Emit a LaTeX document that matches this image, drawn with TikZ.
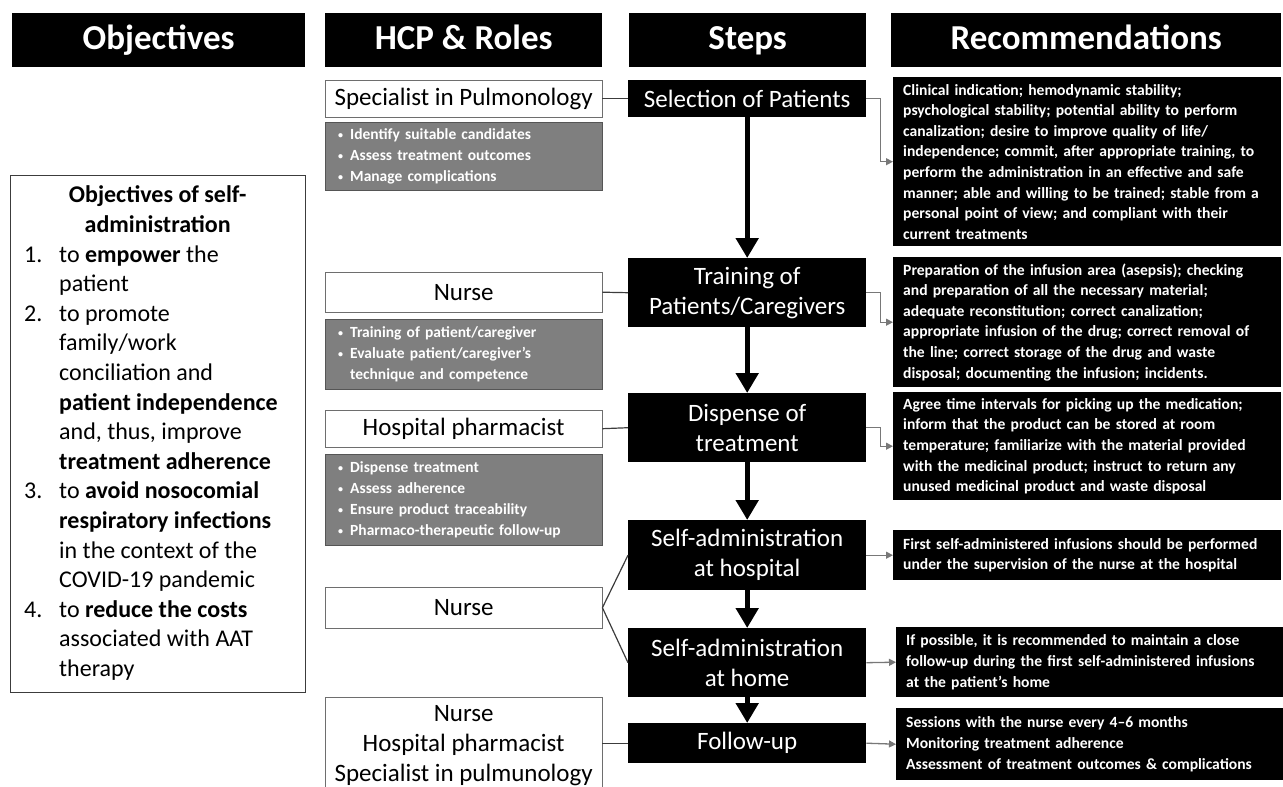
\documentclass[tikz,border=0pt]{standalone}
\usepackage{fontspec}
\setmainfont{Carlito}
\usetikzlibrary{positioning,arrows.meta}

\definecolor{dutyfill}{RGB}{127,127,127}
\definecolor{dutyedge}{RGB}{85,85,85}
\definecolor{roleedge}{RGB}{110,110,110}
\definecolor{linkgray}{RGB}{60,60,60}
\definecolor{elbowgray}{RGB}{120,120,120}

\newcommand\headfont{\fontsize{35pt}{40pt}\selectfont\bfseries}
\newcommand\stepfont{\fontsize{25pt}{30pt}\selectfont}
\newcommand\dutyfont{\fontsize{15.5pt}{21pt}\selectfont\bfseries}
\newcommand\recfont{\fontsize{15.6pt}{20.6pt}\selectfont\bfseries}
\newcommand\objfont{\fontsize{24pt}{29.6pt}\selectfont}
\newcommand\dutydot{\makebox[12pt][l]{\fontsize{10pt}{10pt}\selectfont\raisebox{1pt}{•}}}
\newcommand\dutygap{\hspace*{12pt}}

\begin{document}
\begin{tikzpicture}[
    x=1pt, y=-1pt,
    head/.style={fill=black, text=white, font=\headfont, minimum height=54pt, text height=25pt, text depth=7pt, anchor=north west, inner sep=0pt},
    role/.style={draw=roleedge, fill=white, font=\stepfont, minimum width=277pt, align=center, anchor=north west, inner sep=0pt},
    duty/.style={draw=dutyedge, fill=dutyfill, text=white, font=\dutyfont, text width=251pt, inner xsep=13pt, align=left},
    stepbox/.style={fill=black, text=white, font=\stepfont, minimum width=238pt, align=center, anchor=north west, inner sep=0pt},
    rec/.style={fill=black, text=white, font=\recfont, text width=368pt, inner xsep=10pt, inner ysep=0pt, align=left, anchor=north west},
    objbox/.style={draw=linkgray, fill=white, font=\objfont, minimum width=295pt, minimum height=517pt, inner sep=0pt, anchor=north west},
    flow/.style={line width=5pt, -{Triangle[width=22pt,length=20pt]}},
    link/.style={draw=linkgray, line width=1.2pt},
    elbow/.style={draw=elbowgray, line width=1.3pt, -{Triangle[width=7pt,length=7pt]}}
]
\clip (0,0) rectangle (1283,787);

% column heads
\node[head, minimum width=293pt] (hobj) at (12,13) {Objectives};
\node[head, minimum width=277pt] (hhcp) at (325,13) {HCP \& Roles};
\node[head, minimum width=237pt] (hstep) at (629,13) {Steps};
\node[head, minimum width=390pt] (hrec) at (891,13) {Recommendations};

% objectives
\node[objbox] (obj) at (10,175) {%
  \begin{tabular}{@{}p{35pt}@{}p{232pt}@{}}
  \multicolumn{2}{c}{\bfseries Objectives of self-}\\
  \multicolumn{2}{c}{\bfseries administration}\\
  1. & to \textbf{empower} the\\
     & patient\\
  2. & to promote\\
     & family/work\\
     & conciliation and\\
     & \textbf{patient independence}\\
     & and, thus, improve\\
     & \textbf{treatment adherence}\\
  3. & to \textbf{avoid nosocomial}\\
     & \textbf{respiratory infections}\\
     & in the context of the\\
     & COVID-19 pandemic\\
  4. & to \textbf{reduce the costs}\\
     & associated with AAT\\
     & therapy
  \end{tabular}};

% HCP and roles
\node[role, minimum height=37pt] (spec) at (325,80) {Specialist in Pulmonology};
\node[duty, minimum height=68pt, below=5pt of spec] (specduty) {%
  \dutydot Identify suitable candidates\\
  \dutydot Assess treatment outcomes\\
  \dutydot Manage complications};
\node[role, minimum height=40pt] (nurseA) at (325,272) {Nurse};
\node[duty, minimum height=70pt, below=7pt of nurseA] (nurseduty) {%
  \dutydot Training of patient/caregiver\\
  \dutydot Evaluate patient/caregiver’s\\
  \dutygap technique and competence};
\node[role, minimum height=37pt] (pharm) at (325,410) {Hospital pharmacist};
\node[duty, minimum height=91pt, below=7pt of pharm] (pharmduty) {%
  \dutydot Dispense treatment\\
  \dutydot Assess adherence\\
  \dutydot Ensure product traceability\\
  \dutydot Pharmaco-therapeutic follow-up};
\node[role, minimum height=41pt] (nurseB) at (325,587) {Nurse};
\node[role, minimum height=96pt] (team) at (325,697) {Nurse\\Hospital pharmacist\\Specialist in pulmunology};

% steps
\node[stepbox, minimum height=37pt] (sel) at (628,80) {Selection of Patients};
\node[stepbox, minimum height=69pt] (train) at (628,258) {Training of\\Patients/Caregivers};
\node[stepbox, minimum height=69pt] (disp) at (628,393) {Dispense of\\treatment};
\node[stepbox, minimum height=70pt] (hosp) at (628,520) {Self-administration\\at hospital};
\node[stepbox, minimum height=69pt] (home) at (628,628) {Self-administration\\at home};
\node[stepbox, minimum height=40pt] (follow) at (628,723) {Follow-up};

% recommendations
\node[rec, minimum height=169pt] (rec1) at (893,77) {Clinical indication; hemodynamic stability;\\
  psychological stability; potential ability to perform\\
  canalization; desire to improve quality of life/\\
  independence; commit, after appropriate training, to\\
  perform the administration in an effective and safe\\
  manner; able and willing to be trained; stable from a\\
  personal point of view; and compliant with their\\
  current treatments};
\node[rec, minimum height=130pt] (rec2) at (893,257) {Preparation of the infusion area (asepsis); checking\\
  and preparation of all the necessary material;\\
  adequate reconstitution; correct canalization;\\
  appropriate infusion of the drug; correct removal of\\
  the line; correct storage of the drug and waste\\
  disposal; documenting the infusion; incidents.};
\node[rec, minimum height=108pt] (rec3) at (893,392) {Agree time intervals for picking up the medication;\\
  inform that the product can be stored at room\\
  temperature; familiarize with the material provided\\
  with the medicinal product; instruct to return any\\
  unused medicinal product and waste disposal};
\node[rec, minimum height=50pt] (rec4) at (893,530) {First self-administered infusions should be performed\\
  under the supervision of the nurse at the hospital};
\node[rec, minimum height=70pt, text width=367pt] (rec5) at (896,627) {If possible, it is recommended to maintain a close\\
  follow-up during the first self-administered infusions\\
  at the patient's home};
\node[rec, minimum height=72pt, text width=367pt] (rec6) at (896,708) {Sessions with the nurse every 4–6 months\\
  Monitoring treatment adherence\\
  Assessment of treatment outcomes \& complications};

% roles to steps
\draw[link] (spec.east) -- (sel.west);
\draw[link] (nurseA.east) -- (train.west);
\draw[link] (pharm.east) -- (disp.west);
\draw[link] (nurseB.east) -- (hosp.west);
\draw[link] (nurseB.east) -- (home.west);
\draw[link] (follow.west) -- (follow.west -| team.east);

% step flow
\draw[flow] (sel.south) -- (train.north);
\draw[flow] (train.south) -- (disp.north);
\draw[flow] (disp.south) -- (hosp.north);
\draw[flow] (hosp.south) -- (home.north);
\draw[flow] (home.south) -- (follow.north);

% steps to recommendations
\draw[elbow] (sel.east) -- ++(14,0) |- (rec1.west);
\draw[elbow] (train.east) -- ++(14,0) |- (rec2.west);
\draw[elbow] (disp.east) -- ++(14,0) |- (rec3.west);
\draw[elbow] (hosp.east) -- (rec4.west);
\draw[elbow] (home.east) -- (rec5.west);
\draw[elbow] (follow.east) -- (rec6.west);
\end{tikzpicture}
\end{document}
